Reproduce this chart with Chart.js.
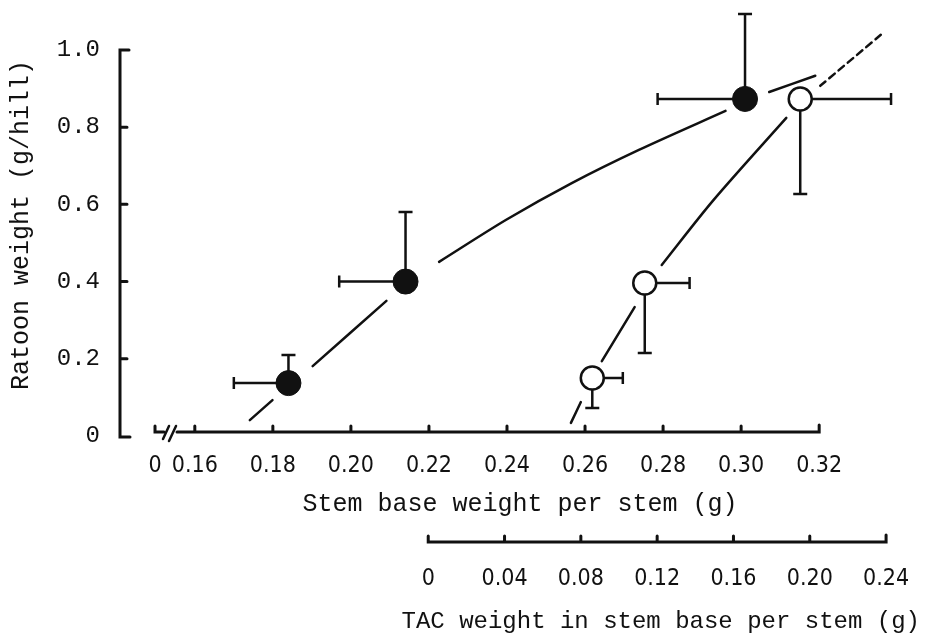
<!DOCTYPE html>
<html>
<head>
<meta charset="utf-8">
<script src="https://cdn.jsdelivr.net/npm/chart.js@4/dist/chart.umd.min.js"></script>
<style>
  html, body { margin: 0; padding: 0; background: #fff; }
  #wrap { width: 934px; height: 639px; }
</style>
</head>
<body>
<div id="wrap"><canvas id="ratoonChart"></canvas></div>
<script>
// Filled circles: stem base weight per stem (g) vs ratoon weight (g/hill)
const filledX = [0.184, 0.214, 0.301];
const filledY = [0.137, 0.400, 0.873];
const filledXLow = [0.170, 0.197, 0.2786];
const filledYHigh = [0.210, 0.580, 1.093];

// Open circles: TAC weight in stem base per stem (g) vs ratoon weight
const openX = [0.086, 0.1135, 0.195];
const openY = [0.150, 0.396, 0.873];
const openXHigh = [0.102, 0.137, 0.2426];
const openYLow = [0.0725, 0.215, 0.627];

// Fitted curves (null = gap round a point)
const filledCurveX = [0.1741, 0.1799, null, 0.1902, 0.2091, null, 0.2226, 0.2398, 0.2566, 0.2738, 0.2960, null, 0.3072, 0.3190];
const filledCurveY = [0.041, 0.093, null, 0.181, 0.350, null, 0.451, 0.560, 0.655, 0.741, 0.842, null, 0.891, 0.933];
const openCurveX = [0.0748, 0.0800, null, 0.0910, 0.1082, null, 0.1224, 0.1495, 0.1877];
const openCurveY = [0.034, 0.088, null, 0.194, 0.334, null, 0.443, 0.611, 0.824];
const openDashX = [0.2055, 0.2384];
const openDashY = [0.907, 1.044];

// Tick labels
const yTicks = [0, 0.2, 0.4, 0.6, 0.8, 1.0];
const stemTicks = [0.16, 0.18, 0.20, 0.22, 0.24, 0.26, 0.28, 0.30, 0.32];
const stemBreak = 0.1498;   // where the "0" of the broken axis sits
const tacTicks = [0, 0.04, 0.08, 0.12, 0.16, 0.20, 0.24];

const INK = '#111';
const MONO = "'Liberation Mono', 'DejaVu Sans Mono', monospace";
const HAND = "'Liberation Sans Narrow', 'DejaVu Sans Condensed', sans-serif";

function toPoints(xs, ys) {
    return xs.map((x, i) => ({ x: x === null ? xs[i - 1] : x, y: ys[i] }));
}

// Error bars (one-sided) drawn under the circles
const errorBars = {
    id: 'errorBars',
    beforeDatasetsDraw(chart) {
        const { ctx, scales } = chart;
        const y = scales.y;
        ctx.save();
        ctx.strokeStyle = INK;
        ctx.lineWidth = 2.5;
        const cap = 7;
        function bar(sx, xv, yv, xe, ye) {
            const px = sx.getPixelForValue(xv), py = y.getPixelForValue(yv);
            const ex = sx.getPixelForValue(xe), ey = y.getPixelForValue(ye);
            ctx.beginPath();
            ctx.moveTo(px, py); ctx.lineTo(ex, py);
            ctx.moveTo(ex, py - cap + 1); ctx.lineTo(ex, py + cap - 1);
            ctx.moveTo(px, py); ctx.lineTo(px, ey);
            ctx.moveTo(px - cap, ey); ctx.lineTo(px + cap, ey);
            ctx.stroke();
        }
        filledX.forEach((v, i) => bar(scales.x, v, filledY[i], filledXLow[i], filledYHigh[i]));
        openX.forEach((v, i) => bar(scales.x2, v, openY[i], openXHigh[i], openYLow[i]));
        ctx.restore();
    }
};

// Axis lines with inward ticks and the break on the stem base axis
const axesDraw = {
    id: 'axesDraw',
    beforeDatasetsDraw(chart) {
        const { ctx, scales } = chart;
        const { x, x2, y } = scales;
        const left = chart.chartArea.left;
        const y0 = y.getPixelForValue(0);
        const y1 = y.getPixelForValue(1.0);
        ctx.save();
        ctx.strokeStyle = INK;
        ctx.lineWidth = 3;
        ctx.lineCap = 'round';
        ctx.beginPath();
        // y axis bracket
        ctx.moveTo(left + 9, y1); ctx.lineTo(left, y1);
        ctx.lineTo(left, y0 + 1); ctx.lineTo(left + 10, y0 + 1);
        yTicks.slice(1, -1).forEach(v => {
            const py = y.getPixelForValue(v);
            ctx.moveTo(left, py); ctx.lineTo(left + 7, py);
        });
        // stem base axis
        const ax = y0 - 4;
        const b = x.getPixelForValue(stemBreak);
        ctx.moveTo(b, ax - 6); ctx.lineTo(b, ax); ctx.lineTo(b + 9, ax);
        const s0 = b + 22, s1 = x.getPixelForValue(stemTicks[stemTicks.length - 1]);
        ctx.moveTo(s0, ax); ctx.lineTo(s1, ax); ctx.lineTo(s1, ax - 7);
        stemTicks.slice(0, -1).forEach(v => {
            const px = x.getPixelForValue(v);
            ctx.moveTo(px, ax); ctx.lineTo(px, ax - 6);
        });
        ctx.stroke();
        // break marks
        ctx.lineWidth = 2.5;
        ctx.beginPath();
        ctx.moveTo(b + 8, ax + 7); ctx.lineTo(b + 14, ax - 6);
        ctx.moveTo(b + 14, ax + 9); ctx.lineTo(b + 21, ax - 6);
        ctx.stroke();
        // TAC axis
        ctx.lineWidth = 3;
        ctx.beginPath();
        const ty = x2.top + 1;
        const t0 = x2.getPixelForValue(tacTicks[0]);
        const t1 = x2.getPixelForValue(tacTicks[tacTicks.length - 1]);
        ctx.moveTo(t0, ty - 6); ctx.lineTo(t0, ty); ctx.lineTo(t1, ty); ctx.lineTo(t1, ty - 7);
        tacTicks.slice(1, -1).forEach(v => {
            const px = x2.getPixelForValue(v);
            ctx.moveTo(px, ty); ctx.lineTo(px, ty - 6);
        });
        ctx.stroke();
        ctx.restore();
    }
};

const curveStyle = {
    showLine: true,
    borderColor: INK,
    borderWidth: 2.5,
    pointRadius: 0,
    tension: 0.3,
    spanGaps: false,
    borderCapStyle: 'round'
};

new Chart(document.getElementById('ratoonChart'), {
    type: 'scatter',
    data: {
        datasets: [
            Object.assign({ label: 'Stem base curve', data: toPoints(filledCurveX, filledCurveY), xAxisID: 'x' }, curveStyle),
            Object.assign({ label: 'TAC curve', data: toPoints(openCurveX, openCurveY), xAxisID: 'x2' }, curveStyle),
            Object.assign({ label: 'TAC curve extension', data: toPoints(openDashX, openDashY), xAxisID: 'x2', borderDash: [7, 5] }, curveStyle),
            {
                label: 'Stem base weight',
                data: toPoints(filledX, filledY),
                xAxisID: 'x',
                pointRadius: 12.5,
                pointBackgroundColor: INK,
                pointBorderColor: INK,
                pointBorderWidth: 1
            },
            {
                label: 'TAC weight',
                data: toPoints(openX, openY),
                xAxisID: 'x2',
                pointRadius: 11.5,
                pointBackgroundColor: '#fff',
                pointBorderColor: INK,
                pointBorderWidth: 2.5
            }
        ]
    },
    options: {
        responsive: true,
        maintainAspectRatio: false,
        animation: false,
        layout: { padding: { top: 5, right: 12, left: 0, bottom: 0 } },
        plugins: {
            legend: { display: false },
            tooltip: { enabled: false }
        },
        scales: {
            y: {
                type: 'linear',
                min: 0,
                max: 1.093,
                afterFit: s => { s.width = 120; s.paddingTop = 0; s.paddingBottom = 0; },
                afterBuildTicks: s => { s.ticks = yTicks.map(v => ({ value: v })); },
                grid: { display: false, drawTicks: false },
                border: { display: false },
                ticks: {
                    padding: 20,
                    color: INK,
                    font: { family: MONO, size: 24 },
                    callback: v => (v === 0 ? '0' : v.toFixed(1))
                },
                title: {
                    display: true,
                    text: 'Ratoon weight (g/hill)',
                    color: INK,
                    font: { family: MONO, size: 25 },
                    padding: { top: 6, bottom: 0 }
                }
            },
            x: {
                type: 'linear',
                position: 'bottom',
                weight: 0,
                min: 0.140828,
                max: 0.34584,
                afterFit: s => { s.height = 105; s.paddingLeft = 0; s.paddingRight = 0; },
                afterBuildTicks: s => { s.ticks = [stemBreak].concat(stemTicks).map(v => ({ value: v })); },
                grid: { display: false, drawTicks: false },
                border: { display: false },
                ticks: {
                    padding: 16,
                    maxRotation: 0,
                    autoSkip: false,
                    color: INK,
                    font: { family: HAND, size: 23 },
                    callback: v => (v < 0.155 ? '0' : v.toFixed(2))
                },
                title: {
                    display: true,
                    text: 'Stem base weight per stem (g)',
                    color: INK,
                    font: { family: MONO, size: 25 },
                    padding: { top: 0, bottom: 22 }
                }
            },
            x2: {
                type: 'linear',
                position: 'bottom',
                weight: 1,
                min: -0.16157,
                max: 0.25778,
                afterFit: s => { s.height = 98; s.paddingLeft = 0; s.paddingRight = 0; },
                afterBuildTicks: s => { s.ticks = tacTicks.map(v => ({ value: v })); },
                grid: { display: false, drawTicks: false },
                border: { display: false },
                ticks: {
                    padding: 24,
                    maxRotation: 0,
                    autoSkip: false,
                    color: INK,
                    font: { family: HAND, size: 23 },
                    callback: v => (v === 0 ? '0' : v.toFixed(2))
                },
                title: {
                    display: true,
                    text: 'TAC weight in stem base per stem (g)',
                    color: INK,
                    align: 'end',
                    font: { family: MONO, size: 24 },
                    padding: { top: 0, bottom: 3 }
                }
            }
        }
    },
    plugins: [axesDraw, errorBars]
});
</script>
</body>
</html>
